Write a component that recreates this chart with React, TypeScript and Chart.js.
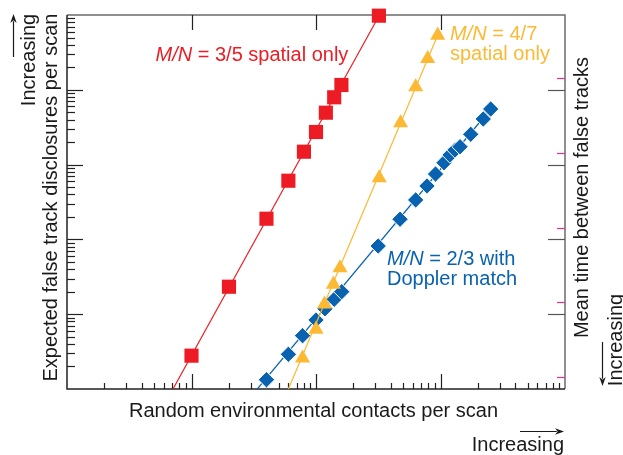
import { useEffect, useRef } from "react";
import { Chart, registerables } from "chart.js";

Chart.register(...registerables);

// ---- data (arbitrary log units) ----
const redX = [10, 20, 40, 60, 80, 100, 120, 140, 160, 320];
const redY = [2.79, 23.3, 189, 609, 1487, 2729, 4943, 7940, 11600, 97900];
const redFitX = [7.1, 321];
const redFitY = [1, 97900];

const yellowX = [78, 100, 117, 138, 156, 322, 478, 632, 789, 950];
const yellowY = [2.59, 6.28, 13.6, 25.1, 41.5, 662, 3597, 10900, 26000, 53500];
const yellowFitX = [60, 950];
const yellowFitY = [1, 53500];

const blueX = [40, 60, 78, 100, 118, 140, 161, 316, 473, 632, 779, 912, 1067, 1192, 1307, 1435, 1749, 2206, 2530];
const blueY = [1.33, 2.91, 5.16, 8.37, 11.8, 15.8, 20.0, 81.6, 186, 337, 518, 748, 1060, 1343, 1567, 1734, 2542, 4071, 5536];
const blueFitX = [33.8, 2530];
const blueFitY = [1, 5536];

// axes
const xRange = [1, 10000];
const yRange = [1, 100000];
const xMajorTicks = [10, 100, 1000];
const yMajorTicks = [10, 100, 1000, 10000];
const minorMultipliers = [2, 3, 4, 5, 6, 7, 8, 9];
const timeRange = [0.144, 14400]; // secondary (inverted) axis: mean time between false tracks
const timeTicks = [1, 10, 100, 1000, 10000];

// texts
const xTitle = "Random environmental contacts per scan";
const yTitle = "Expected false track disclosures per scan";
const y2Title = "Mean time between false tracks";
const increasingText = "Increasing";
const redLabel: [string, boolean][] = [["M/N", true], [" = 3/5 spatial only", false]];
const yellowLabel1: [string, boolean][] = [["M/N", true], [" = 4/7", false]];
const yellowLabel2: [string, boolean][] = [["spatial only", false]];
const blueLabel1: [string, boolean][] = [["M/N", true], [" = 2/3 with", false]];
const blueLabel2: [string, boolean][] = [["Doppler match", false]];

const RED = "#ed1c24";
const YELLOW = "#fcb934";
const BLUE = "#0862b0";
const PINK = "#e8308a";
const INK = "#1a1a1a";
const FONT = '"Liberation Sans", Arial, Helvetica, sans-serif';
const FS = 20;

function pts(xs: number[], ys: number[]) {
  return xs.map((x, i) => ({ x, y: ys[i] }));
}

function minorTicks(lo: number, hi: number) {
  const out: number[] = [];
  for (let d = lo; d < hi; d *= 10) {
    for (const m of minorMultipliers) out.push(d * m);
  }
  return out;
}

function drawSegments(ctx: CanvasRenderingContext2D, segs: [string, boolean][], x: number, y: number, size: number, color: string) {
  let cx = x;
  ctx.fillStyle = color;
  ctx.textAlign = "left";
  ctx.textBaseline = "alphabetic";
  for (const [t, it] of segs) {
    ctx.font = `${it ? "italic " : ""}${size}px ${FONT}`;
    ctx.fillText(t, cx, y);
    cx += ctx.measureText(t).width;
  }
}

function rotatedText(ctx: CanvasRenderingContext2D, text: string, x: number, y: number, size: number) {
  ctx.save();
  ctx.translate(x, y);
  ctx.rotate(-Math.PI / 2);
  ctx.font = `${size}px ${FONT}`;
  ctx.fillStyle = INK;
  ctx.textAlign = "center";
  ctx.textBaseline = "alphabetic";
  ctx.fillText(text, 0, 0);
  ctx.restore();
}

function arrow(ctx: CanvasRenderingContext2D, x1: number, y1: number, x2: number, y2: number) {
  const ang = Math.atan2(y2 - y1, x2 - x1);
  const len = 9;
  const half = 3.2;
  ctx.save();
  ctx.strokeStyle = INK;
  ctx.fillStyle = INK;
  ctx.lineWidth = 1.2;
  ctx.beginPath();
  ctx.moveTo(x1, y1);
  ctx.lineTo(x2 - Math.cos(ang) * len * 0.8, y2 - Math.sin(ang) * len * 0.8);
  ctx.stroke();
  ctx.beginPath();
  ctx.moveTo(x2, y2);
  ctx.lineTo(x2 - Math.cos(ang) * len - Math.sin(ang) * half, y2 - Math.sin(ang) * len + Math.cos(ang) * half);
  ctx.lineTo(x2 - Math.cos(ang) * len * 0.7, y2 - Math.sin(ang) * len * 0.7);
  ctx.lineTo(x2 - Math.cos(ang) * len + Math.sin(ang) * half, y2 - Math.sin(ang) * len - Math.cos(ang) * half);
  ctx.closePath();
  ctx.fill();
  ctx.restore();
}

const framePlugin = {
  id: "frameAndTicks",
  beforeDatasetsDraw(chart: any) {
    const ctx: CanvasRenderingContext2D = chart.ctx;
    const { left, right, top, bottom } = chart.chartArea;
    const xs = chart.scales.x;
    const ys = chart.scales.y;
    const ts = chart.scales.t;
    ctx.save();
    ctx.lineCap = "butt";
    // top & right frame (grey)
    ctx.strokeStyle = "#6b6b6b";
    ctx.lineWidth = 1.5;
    ctx.beginPath();
    ctx.moveTo(left, top);
    ctx.lineTo(right, top);
    ctx.lineTo(right, bottom);
    ctx.stroke();
    // left & bottom axes (black)
    ctx.strokeStyle = "#222";
    ctx.beginPath();
    ctx.moveTo(left, top);
    ctx.lineTo(left, bottom);
    ctx.lineTo(right, bottom);
    ctx.stroke();

    ctx.lineWidth = 1.2;
    // x ticks
    ctx.strokeStyle = "#222";
    for (const v of xMajorTicks) {
      const px = Math.round(xs.getPixelForValue(v)) + 0.5;
      ctx.beginPath();
      ctx.moveTo(px, bottom);
      ctx.lineTo(px, bottom - 15);
      ctx.moveTo(px, top);
      ctx.lineTo(px, top + 15);
      ctx.stroke();
    }
    for (const v of minorTicks(xRange[0], xRange[1])) {
      const px = Math.round(xs.getPixelForValue(v)) + 0.5;
      if (px >= right - 1) continue;
      ctx.beginPath();
      ctx.moveTo(px, bottom);
      ctx.lineTo(px, bottom - 6);
      ctx.stroke();
    }
    // y ticks left
    for (const v of yMajorTicks) {
      const py = Math.round(ys.getPixelForValue(v)) + 0.5;
      ctx.beginPath();
      ctx.moveTo(left, py);
      ctx.lineTo(left + 16, py);
      ctx.stroke();
    }
    for (const v of minorTicks(yRange[0], yRange[1])) {
      const py = Math.round(ys.getPixelForValue(v)) + 0.5;
      if (py <= top + 1) continue;
      ctx.beginPath();
      ctx.moveTo(left, py);
      ctx.lineTo(left + 8, py);
      ctx.stroke();
    }
    // right major ticks (grey)
    ctx.strokeStyle = "#555";
    for (const v of yMajorTicks) {
      const py = Math.round(ys.getPixelForValue(v)) + 0.5;
      ctx.beginPath();
      ctx.moveTo(right, py);
      ctx.lineTo(right - 17, py);
      ctx.stroke();
    }
    // secondary axis ticks (pink)
    ctx.strokeStyle = PINK;
    for (const v of timeTicks) {
      const py = Math.round(ts.getPixelForValue(v)) + 0.5;
      ctx.beginPath();
      ctx.moveTo(right, py);
      ctx.lineTo(right - 8, py);
      ctx.stroke();
    }
    ctx.restore();
  },
  afterDraw(chart: any) {
    const ctx: CanvasRenderingContext2D = chart.ctx;
    ctx.save();
    // series labels
    drawSegments(ctx, redLabel, 155.5, 61.3, FS, RED);
    drawSegments(ctx, yellowLabel1, 450, 40.3, FS, YELLOW);
    drawSegments(ctx, yellowLabel2, 450, 60.3, FS, YELLOW);
    drawSegments(ctx, blueLabel1, 387, 265.3, FS, BLUE);
    drawSegments(ctx, blueLabel2, 387, 285.3, FS, BLUE);
    // axis titles
    ctx.font = `${FS}px ${FONT}`;
    ctx.fillStyle = INK;
    ctx.textAlign = "center";
    ctx.textBaseline = "alphabetic";
    ctx.fillText(xTitle, 313.5, 417.3);
    ctx.textAlign = "right";
    ctx.fillText(increasingText, 564, 451);
    rotatedText(ctx, yTitle, 57.3, 197.5, FS);
    rotatedText(ctx, y2Title, 587.5, 197.5, FS);
    rotatedText(ctx, increasingText, 34.5, 60, FS);
    rotatedText(ctx, increasingText, 622.3, 340, FS);
    // arrows
    arrow(ctx, 13.5, 57, 13.5, 14);
    arrow(ctx, 520, 431.5, 564, 431.5);
    arrow(ctx, 602.5, 342, 602.5, 386);
    ctx.restore();
  },
};

export default function App() {
  const ref = useRef<HTMLCanvasElement | null>(null);

  useEffect(() => {
    document.body.style.margin = "0";
    const canvas = ref.current;
    if (!canvas) return;
    const chart = new Chart(canvas, {
      type: "scatter",
      data: {
        datasets: [
          {
            label: "red points",
            data: pts(redX, redY),
            pointStyle: "rect",
            pointRadius: 10,
            pointBackgroundColor: RED,
            pointBorderWidth: 0,
            pointBorderColor: RED,
            showLine: false,
            clip: false as any,
            order: 1,
          },
          {
            label: "red fit",
            data: pts(redFitX, redFitY),
            showLine: true,
            borderColor: RED,
            borderWidth: 1.2,
            pointRadius: 0,
            order: 2,
          },
          {
            label: "yellow points",
            data: pts(yellowX, yellowY),
            pointStyle: "triangle",
            pointRadius: 8.7,
            pointBackgroundColor: YELLOW,
            pointBorderWidth: 0,
            pointBorderColor: YELLOW,
            showLine: false,
            clip: false as any,
            order: 3,
          },
          {
            label: "yellow fit",
            data: pts(yellowFitX, yellowFitY),
            showLine: true,
            borderColor: YELLOW,
            borderWidth: 1.2,
            pointRadius: 0,
            order: 4,
          },
          {
            label: "blue points",
            data: pts(blueX, blueY),
            pointStyle: "rectRot",
            pointRadius: 8.2,
            pointBackgroundColor: BLUE,
            pointBorderWidth: 1,
            pointBorderColor: "#ffffff",
            showLine: false,
            clip: false as any,
            order: 5,
          },
          {
            label: "blue fit",
            data: pts(blueFitX, blueFitY),
            showLine: true,
            borderColor: BLUE,
            borderWidth: 1.2,
            pointRadius: 0,
            order: 6,
          },
        ],
      },
      options: {
        animation: false,
        responsive: false,
        maintainAspectRatio: false,
        devicePixelRatio: 1,
        layout: { padding: { left: 67, right: 58, top: 15, bottom: 66 } },
        plugins: {
          legend: { display: false },
          tooltip: { enabled: false },
          title: { display: false },
        },
        events: [],
        scales: {
          x: { type: "logarithmic", min: xRange[0], max: xRange[1], display: false },
          y: { type: "logarithmic", min: yRange[0], max: yRange[1], display: false },
          t: { type: "logarithmic", min: timeRange[0], max: timeRange[1], reverse: true, display: false, position: "right" },
        },
      },
      plugins: [framePlugin],
    });
    return () => chart.destroy();
  }, []);

  return (
    <div style={{ width: 623, height: 455, position: "relative", background: "#fff" }}>
      <canvas ref={ref} width={623} height={455} style={{ display: "block", width: 623, height: 455 }} />
    </div>
  );
}
